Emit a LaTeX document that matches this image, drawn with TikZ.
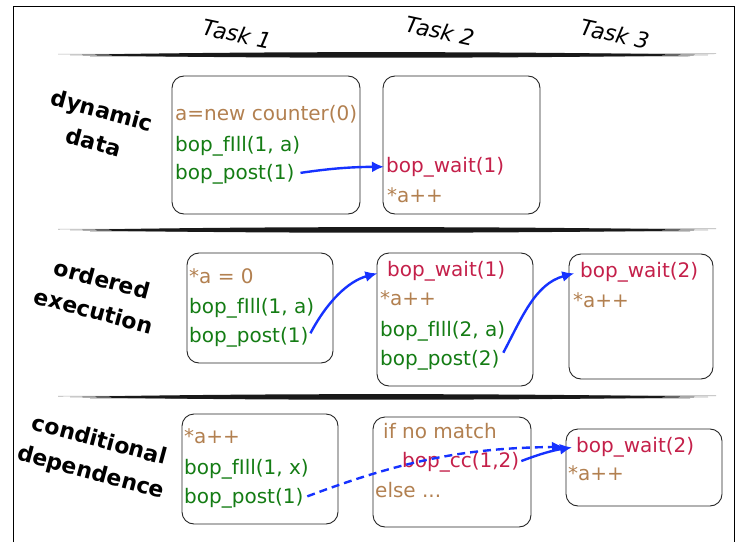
\documentclass[tikz,border=0pt]{standalone}
\usepackage{fontspec}
\setmainfont{DejaVu Sans}
\usetikzlibrary{arrows.meta}
\definecolor{codebrown}{RGB}{178,128,80}
\definecolor{codegreen}{RGB}{20,124,20}
\definecolor{codered}{RGB}{196,32,74}
\definecolor{flowblue}{RGB}{22,50,255}

\begin{document}
\begin{tikzpicture}[x=1pt,y=1pt,
		codebox/.style={draw=black!85,line width=0.9pt,rounded corners=12pt,inner sep=0pt},
		code/.style={anchor=base west,inner sep=0pt,font=\fontsize{20}{24}\selectfont},
		rowlabel/.style={align=center,rotate=-15,inner sep=0pt,font=\fontsize{22}{33}\selectfont\bfseries},
		tasklabel/.style={rotate=-12,inner sep=0pt,font=\fontsize{22}{25}\selectfont\itshape},
		brushfuzz/.style={black!45,line width=0.6pt,opacity=0.7},
		flow/.style={draw=flowblue,line width=2.4pt,-{Latex[length=12pt,width=11pt]}}]
	\useasboundingbox (0,0) rectangle (741,542);
	% frame
	\draw[line width=0.8pt] (13,0) -- (13,536) -- (734,536) -- (734,0);
	% brush strokes between the rows
	\draw[brushfuzz] (58,487.8) -- (716,488.3);
	\draw[brushfuzz] (90,485.4) -- (690,485.8);
	\fill[black!90] (70,487) .. controls (260,491) and (520,490.6) .. (708,487) .. controls (520,483.6) and (260,483.2) .. (70,487) -- cycle;
	\draw[brushfuzz] (58,312.8) -- (716,313.3);
	\draw[brushfuzz] (90,310.4) -- (690,310.8);
	\fill[black!90] (70,312) .. controls (260,316) and (520,315.6) .. (708,312) .. controls (520,308.6) and (260,308.2) .. (70,312) -- cycle;
	\draw[brushfuzz] (58,145.8) -- (716,146.3);
	\draw[brushfuzz] (90,143.4) -- (690,143.8);
	\fill[black!90] (70,145) .. controls (260,149) and (520,148.6) .. (708,145) .. controls (520,141.6) and (260,141.2) .. (70,145) -- cycle;
	% column and row headings
	\node[tasklabel] (task1) at (237,508) {Task 1};
	\node[tasklabel] (task2) at (440,511) {Task 2};
	\node[tasklabel] (task3) at (615,508) {Task 3};
	\node[rowlabel] (dyn) at (98,416) {dynamic\\data};
	\node[rowlabel] (ord) at (98,247) {ordered\\execution};
	\node[rowlabel] (cond) at (95,85) {conditional\\dependence};
	% dynamic data
	\node[codebox,minimum width=188pt,minimum height=138pt] (boxa) at (266,397) {};
	\node[code,text=codebrown] (anew) at (175,421) {a=new counter(0)};
	\node[code,text=codegreen] (afill) at (175,391) {bop\_fIll(1, a)};
	\node[code,text=codegreen] (apost) at (175,363) {bop\_post(1)};
	\node[codebox,minimum width=157pt,minimum height=138pt] (boxb) at (461.5,397) {};
	\node[code,text=codered] (bwait) at (386,370) {bop\_wait(1)};
	\node[code,text=codebrown] (binc) at (387,340) {*a++};
	% ordered execution
	\node[codebox,minimum width=146pt,minimum height=110pt] (boxc) at (260,234) {};
	\node[code,text=codebrown] (cset) at (189,259) {*a = 0};
	\node[code,text=codegreen] (cfill) at (189,229) {bop\_fIll(1, a)};
	\node[code,text=codegreen] (cpost) at (189,200) {bop\_post(1)};
	\node[codebox,minimum width=156pt,minimum height=133pt] (boxd) at (455,222.5) {};
	\node[code,text=codered] (dwait) at (387,266) {bop\_wait(1)};
	\node[code,text=codebrown] (dinc) at (380,237) {*a++};
	\node[code,text=codegreen] (dfill) at (380,206) {bop\_fIll(2, a)};
	\node[code,text=codegreen] (dpost) at (380,177) {bop\_post(2)};
	\node[codebox,minimum width=144pt,minimum height=125pt] (boxe) at (641,225.5) {};
	\node[code,text=codered] (ewait) at (580,265) {bop\_wait(2)};
	\node[code,text=codebrown] (einc) at (573,235) {*a++};
	% conditional dependence
	\node[codebox,minimum width=156pt,minimum height=110pt] (boxf) at (260,73) {};
	\node[code,text=codebrown] (finc) at (184,99) {*a++};
	\node[code,text=codegreen] (ffill) at (184,68) {bop\_fIll(1, x)};
	\node[code,text=codegreen] (fpost) at (184,39) {bop\_post(1)};
	\node[codebox,minimum width=158pt,minimum height=110pt] (boxg) at (452,70) {};
	\node[code,text=codebrown] (gif) at (383,104) {if no match};
	\node[code,text=codered] (gcc) at (402,75) {bop\_cc(1,2)};
	\node[code,text=codebrown] (gelse) at (375,45) {else ...};
	\node[codebox,minimum width=156pt,minimum height=77pt] (boxh) at (644,74.5) {};
	\node[code,text=codered] (hwait) at (576,90) {bop\_wait(2)};
	\node[code,text=codebrown] (hinc) at (568,62) {*a++};
	% posts to waits
	\draw[flow,shorten <=6pt,shorten >=2pt] (apost.east) to[bend left=4] (bwait.west);
	\draw[flow,shorten <=4pt,shorten >=10pt] (cpost.east) to[out=62,in=195] (dwait.west);
	\draw[flow,shorten <=8pt,shorten >=6pt] (dpost.east) to[out=62,in=195] (ewait.west);
	\draw[flow,dash pattern=on 8pt off 5pt,shorten <=4pt,shorten >=12pt] (fpost.east) to[bend left=10] (hwait.west);
	\draw[flow,shorten <=2pt,shorten >=4pt] (gcc.east) to[bend left=6] (hwait.west);
\end{tikzpicture}
\end{document}
